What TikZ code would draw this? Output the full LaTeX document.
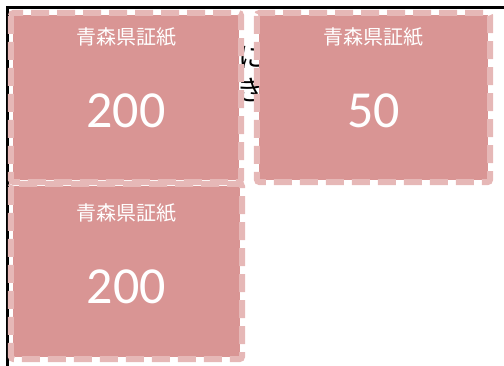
\documentclass[tikz,border=0pt]{standalone}
\usepackage{fontspec}
\usetikzlibrary{calc}
\newfontfamily\jpfont{Noto Sans CJK JP}
\newfontfamily\numfont{Carlito}
\definecolor{stampfill}{RGB}{217,149,148}
\definecolor{stampedge}{RGB}{230,184,183}
\begin{document}
\begin{tikzpicture}[x=1pt,y=-1pt,
  stamp/.style={rectangle, fill=stampfill, draw=none, inner sep=0pt},
  edge/.style={draw=stampedge, line width=6pt, dash pattern=on 18pt off 8pt,
    rounded corners=3pt},
  title/.style={text=white, font=\jpfont\fontsize{20}{22}\selectfont, inner sep=0pt},
  value/.style={text=white, font=\numfont\fontsize{52}{56}\selectfont, inner sep=0pt},
  hidden/.style={text=black, font=\jpfont\fontsize{28}{30}\selectfont, inner sep=0pt}]
\useasboundingbox (0,0) rectangle (504,365);
% background frame
\draw[line width=3pt] (7.5,366) -- (7.5,7.5) -- (505,7.5);
% partly hidden text
\node[hidden] (h1) at (252,57) {に};
\node[hidden] (h2) at (250,90) {き};
% stamp 1
\node[stamp, minimum width=226pt, minimum height=165pt] (s1) at (126,97.5) {};
\draw[edge] ($(s1.north west)+(-2,-2)$) rectangle ($(s1.south east)+(2,2)$);
\node[title] (t1) at (126,37) {青森県証紙};
\node[value] (v1) at (126,111) {200};
% stamp 2
\node[stamp, minimum width=229pt, minimum height=165pt] (s2) at (373.5,97.5) {};
\draw[edge] ($(s2.north west)+(-2,-2)$) rectangle ($(s2.south east)+(2,2)$);
\node[title] (t2) at (373.5,37) {青森県証紙};
\node[value] (v2) at (373.5,111) {50};
% stamp 3
\node[stamp, minimum width=227pt, minimum height=171pt] (s3) at (126.5,271.5) {};
\draw[edge] ($(s3.north west)+(-2,-2)$) rectangle ($(s3.south east)+(2,2)$);
\node[title] (t3) at (126.5,213) {青森県証紙};
\node[value] (v3) at (126.5,287) {200};
\end{tikzpicture}
\end{document}
